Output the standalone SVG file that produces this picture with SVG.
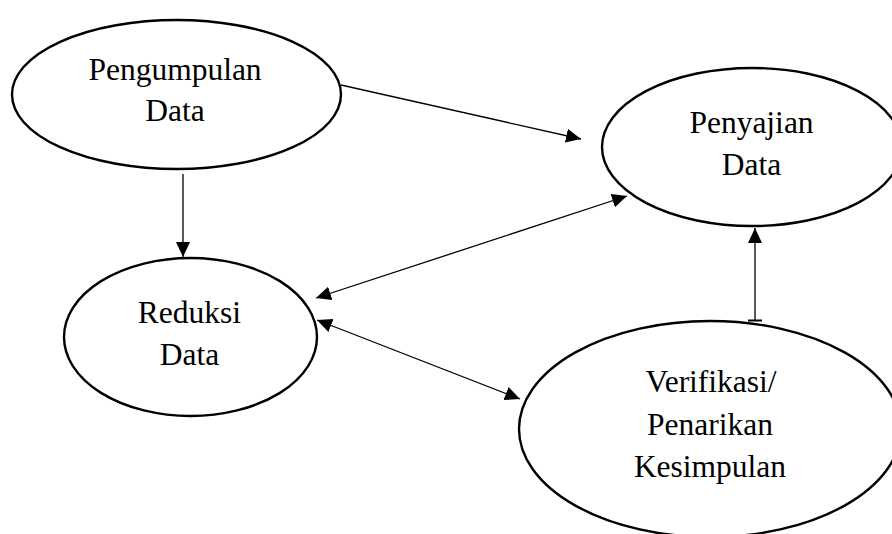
<svg xmlns="http://www.w3.org/2000/svg" width="892" height="534" viewBox="0 0 892 534">
  <style>
    .node ellipse { fill: #ffffff; stroke: #000000; stroke-width: 2.4; }
    .node text { font-family: "Liberation Serif", "Times New Roman", serif; font-size: 31.5px; fill: #000000; text-anchor: middle; }
    .edge { fill: none; stroke: #000000; stroke-width: 1.3; }
  </style>
  <defs>
    <marker id="arrow" markerUnits="userSpaceOnUse" markerWidth="16" markerHeight="15" refX="15" refY="7" orient="auto-start-reverse">
      <path d="M0,0 L15,7 L0,14 z" fill="#000000"/>
    </marker>
  </defs>
  <rect x="0" y="0" width="892" height="534" fill="#ffffff"/>
  <g id="node-pengumpulan" class="node">
    <ellipse cx="176.5" cy="94.5" rx="164.5" ry="74.5"/>
    <text x="175" y="80">Pengumpulan</text>
    <text x="175" y="120.5">Data</text>
  </g>
  <g id="node-penyajian" class="node">
    <ellipse cx="752" cy="147" rx="150" ry="79"/>
    <text x="751.5" y="133">Penyajian</text>
    <text x="751.5" y="175">Data</text>
  </g>
  <g id="node-reduksi" class="node">
    <ellipse cx="190.5" cy="337" rx="126.5" ry="79"/>
    <text x="189.5" y="323">Reduksi</text>
    <text x="189.5" y="365">Data</text>
  </g>
  <g id="node-verifikasi" class="node">
    <ellipse cx="710" cy="429" rx="191" ry="108"/>
    <text x="711" y="392">Verifikasi/</text>
    <text x="710" y="435">Penarikan</text>
    <text x="710" y="477">Kesimpulan</text>
  </g>
  <g id="connectors">
    <path class="edge" d="M341,85 L581,139" marker-end="url(#arrow)"/>
    <path class="edge" d="M183,174 L183,257" marker-end="url(#arrow)"/>
    <path class="edge" d="M316,298 L627,196" marker-start="url(#arrow)" marker-end="url(#arrow)"/>
    <path class="edge" d="M317,320 L520,399" marker-start="url(#arrow)" marker-end="url(#arrow)"/>
    <path class="edge" d="M755,320 L755,228" marker-end="url(#arrow)"/>
    <path d="M748,320.5 L762,320.5" stroke="#000000" stroke-width="2" fill="none"/>
  </g>
</svg>
